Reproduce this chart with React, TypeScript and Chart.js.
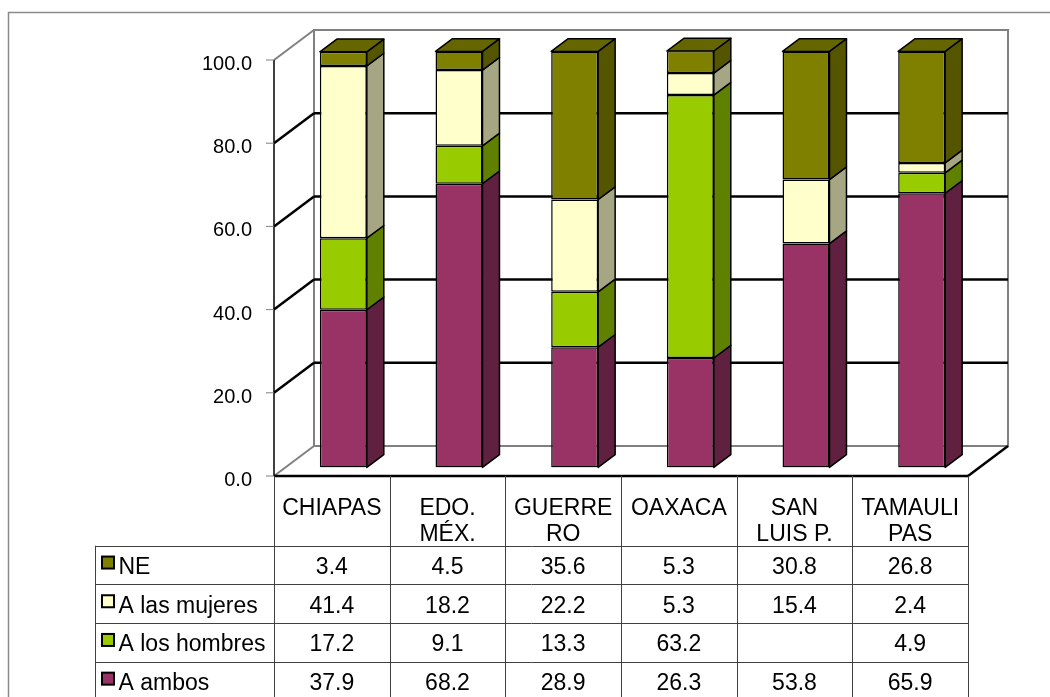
import { useEffect, useRef } from "react";
import { Chart, registerables } from "chart.js";

Chart.register(...registerables);

// ---- data ----
const categoryLines: string[][] = [
  ["CHIAPAS"],
  ["EDO.", "MÉX."],
  ["GUERRE", "RO"],
  ["OAXACA"],
  ["SAN", "LUIS P."],
  ["TAMAULI", "PAS"],
];
const categories = ["CHIAPAS", "EDO. MÉX.", "GUERRERO", "OAXACA", "SAN LUIS P.", "TAMAULIPAS"];
const seriesNames = ["A ambos", "A los hombres", "A las mujeres", "NE"];
const aAmbos: (number | null)[] = [37.9, 68.2, 28.9, 26.3, 53.8, 65.9];
const aLosHombres: (number | null)[] = [17.2, 9.1, 13.3, 63.2, null, 4.9];
const aLasMujeres: (number | null)[] = [41.4, 18.2, 22.2, 5.3, 15.4, 2.4];
const ne: (number | null)[] = [3.4, 4.5, 35.6, 5.3, 30.8, 26.8];
const yTicks = [0, 20, 40, 60, 80, 100];

const seriesValues = [aAmbos, aLosHombres, aLasMujeres, ne];
const frontColors = ["#993366", "#99CC00", "#FFFFCC", "#808000"];
const sideColors = ["#602040", "#608000", "#A6A684", "#555500"];
const topColors = ["#7A2951", "#7AA300", "#CCCCA3", "#666600"];

// ---- geometry (oblique 3D) ----
const FRONT_DX = -11.5;
const FRONT_DY = 8.6;
const BACK_DX = 28.5;
const BACK_DY = -21.4;
const BAR_DX = 17;
const BAR_DY = -12.7;

const FONT = "'Liberation Sans', Arial, Helvetica, sans-serif";

function line(ctx: CanvasRenderingContext2D, x1: number, y1: number, x2: number, y2: number) {
  ctx.beginPath();
  ctx.moveTo(x1, y1);
  ctx.lineTo(x2, y2);
  ctx.stroke();
}

function poly(ctx: CanvasRenderingContext2D, pts: number[][], fill: string) {
  ctx.beginPath();
  ctx.moveTo(pts[0][0], pts[0][1]);
  for (let i = 1; i < pts.length; i++) ctx.lineTo(pts[i][0], pts[i][1]);
  ctx.closePath();
  ctx.fillStyle = fill;
  ctx.fill();
  ctx.stroke();
}

const threeD = {
  id: "threeD",
  beforeDatasetsDraw(chart: any) {
    const ctx: CanvasRenderingContext2D = chart.ctx;
    const ys = chart.scales.y;
    const a = chart.chartArea;
    const fl = a.left + FRONT_DX;
    const bl = a.left + BACK_DX;
    const br = a.right + BACK_DX;
    const yF = (v: number) => ys.getPixelForValue(v) + FRONT_DY;
    const yB = (v: number) => ys.getPixelForValue(v) + BACK_DY;
    ctx.save();
    ctx.lineCap = "butt";
    // back wall
    ctx.strokeStyle = "#808080";
    ctx.lineWidth = 2;
    ctx.strokeRect(bl, yB(100), br - bl, yB(0) - yB(100));
    line(ctx, fl, yF(100), bl, yB(100));
    line(ctx, fl, yF(0), bl, yB(0));
    // gridlines
    ctx.strokeStyle = "#000";
    ctx.lineWidth = 2.5;
    for (const v of yTicks) {
      if (v === 0 || v === 100) continue;
      line(ctx, bl, yB(v), br, yB(v));
      line(ctx, fl, yF(v), bl, yB(v));
    }
    // front axis
    ctx.lineWidth = 1.5;
    line(ctx, fl, yF(0), fl, yF(100));
    // tick marks
    ctx.strokeStyle = "#808080";
    ctx.lineWidth = 1;
    for (const v of yTicks) line(ctx, fl - 8, yF(v), fl, yF(v));
    // labels
    ctx.fillStyle = "#000";
    ctx.font = `20px ${FONT}`;
    ctx.textAlign = "right";
    ctx.textBaseline = "alphabetic";
    for (const v of yTicks) ctx.fillText(v.toFixed(1), fl - 22, yF(v) + 10);
    ctx.restore();
  },
  afterDatasetsDraw(chart: any) {
    const ctx: CanvasRenderingContext2D = chart.ctx;
    ctx.save();
    ctx.strokeStyle = "#000";
    ctx.lineWidth = 1.5;
    ctx.lineJoin = "round";
    const n = categories.length;
    for (let j = 0; j < n; j++) {
      let topIdx = -1;
      for (let i = 0; i < seriesValues.length; i++) {
        const v = seriesValues[i][j];
        if (v === null || v === undefined) continue;
        topIdx = i;
        const el = chart.getDatasetMeta(i).data[j];
        const top = Math.min(el.y, el.base);
        const bot = Math.max(el.y, el.base);
        const right = el.x + el.width / 2;
        poly(
          ctx,
          [
            [right, top],
            [right + BAR_DX, top + BAR_DY],
            [right + BAR_DX, bot + BAR_DY],
            [right, bot],
          ],
          sideColors[i]
        );
      }
      if (topIdx >= 0) {
        const el = chart.getDatasetMeta(topIdx).data[j];
        const top = Math.min(el.y, el.base);
        const left = el.x - el.width / 2;
        const right = el.x + el.width / 2;
        poly(
          ctx,
          [
            [left, top],
            [left + BAR_DX, top + BAR_DY],
            [right + BAR_DX, top + BAR_DY],
            [right, top],
          ],
          topColors[topIdx]
        );
      }
    }
    ctx.restore();
  },
  afterDraw(chart: any) {
    const ctx: CanvasRenderingContext2D = chart.ctx;
    const ys = chart.scales.y;
    const a = chart.chartArea;
    const fl = a.left + FRONT_DX;
    const fr = a.right + FRONT_DX;
    const br = a.right + BACK_DX;
    const y0 = ys.getPixelForValue(0) + FRONT_DY;
    const yb0 = ys.getPixelForValue(0) + BACK_DY;
    ctx.save();
    // floor front edge and right diagonal
    ctx.strokeStyle = "#000";
    ctx.lineWidth = 2.5;
    line(ctx, fl, y0, fr, y0);
    line(ctx, fr, y0, br, yb0);

    // data table
    const n = categories.length;
    const colW = (a.right - a.left) / n;
    const headerBottom = 545.7;
    const rowH = 38.7;
    const legendLeft = 95;
    const bottom = 700;
    ctx.strokeStyle = "#404040";
    ctx.lineWidth = 1;
    for (let j = 0; j <= n; j++) {
      const x = Math.round(fl + j * colW) + 0.5;
      line(ctx, x, y0, x, bottom);
    }
    line(ctx, legendLeft + 0.5, headerBottom, legendLeft + 0.5, bottom);
    for (let r = 0; r < 4; r++) {
      const y = Math.round(headerBottom + r * rowH) + 0.5;
      line(ctx, legendLeft, y, fr, y);
    }
    ctx.fillStyle = "#000";
    ctx.font = `23px ${FONT}`;
    ctx.textBaseline = "alphabetic";
    ctx.textAlign = "center";
    for (let j = 0; j < n; j++) {
      const cx = fl + (j + 0.5) * colW;
      categoryLines[j].forEach((t, k) => ctx.fillText(t, cx, 515 + k * 26));
    }
    // rows: top to bottom NE, mujeres, hombres, ambos
    for (let r = 0; r < 4; r++) {
      const si = 3 - r;
      const top = headerBottom + r * rowH;
      const base = top + 28.3;
      ctx.textAlign = "center";
      ctx.fillStyle = "#000";
      for (let j = 0; j < n; j++) {
        const v = seriesValues[si][j];
        if (v === null || v === undefined) continue;
        ctx.fillText(v.toFixed(1), fl + (j + 0.5) * colW, base);
      }
      // legend key
      const sq = 12;
      const sy = top + rowH / 2 - 2.5 - sq / 2;
      ctx.fillStyle = frontColors[si];
      ctx.fillRect(102, sy, sq, sq);
      ctx.strokeStyle = "#000";
      ctx.lineWidth = 2;
      ctx.strokeRect(102, sy, sq, sq);
      ctx.fillStyle = "#000";
      ctx.textAlign = "left";
      ctx.fillText(seriesNames[si], 118.5, base);
    }
    // outer frame
    ctx.strokeStyle = "#8a8a8a";
    ctx.lineWidth = 1.5;
    ctx.beginPath();
    ctx.moveTo(8.5, 697);
    ctx.lineTo(8.5, 12.5);
    ctx.lineTo(1050, 12.5);
    ctx.stroke();
    ctx.restore();
  },
};

export default function App() {
  const ref = useRef<HTMLCanvasElement>(null);
  useEffect(() => {
    const chart = new Chart(ref.current as HTMLCanvasElement, {
      type: "bar",
      data: {
        labels: categories,
        datasets: seriesValues.map((vals, i) => ({
          label: seriesNames[i],
          data: vals,
          backgroundColor: frontColors[i],
          borderColor: "#000",
          borderWidth: 1.5,
          borderSkipped: false,
          barPercentage: 0.406,
          categoryPercentage: 1,
        })),
      },
      options: {
        responsive: false,
        animation: false,
        devicePixelRatio: 1,
        layout: { padding: { left: 285.5, right: 70.5, top: 51.4, bottom: 229.6 } },
        plugins: { legend: { display: false }, tooltip: { enabled: false }, title: { display: false } },
        scales: {
          x: { stacked: true, display: false },
          y: { stacked: true, display: false, min: 0, max: 100 },
        },
      },
      plugins: [threeD],
    } as any);
    return () => chart.destroy();
  }, []);
  return (
    <div style={{ position: "absolute", left: 0, top: 0, width: 1050, height: 697, background: "#fff" }}>
      <canvas ref={ref} width={1050} height={697} style={{ display: "block" }} />
    </div>
  );
}
